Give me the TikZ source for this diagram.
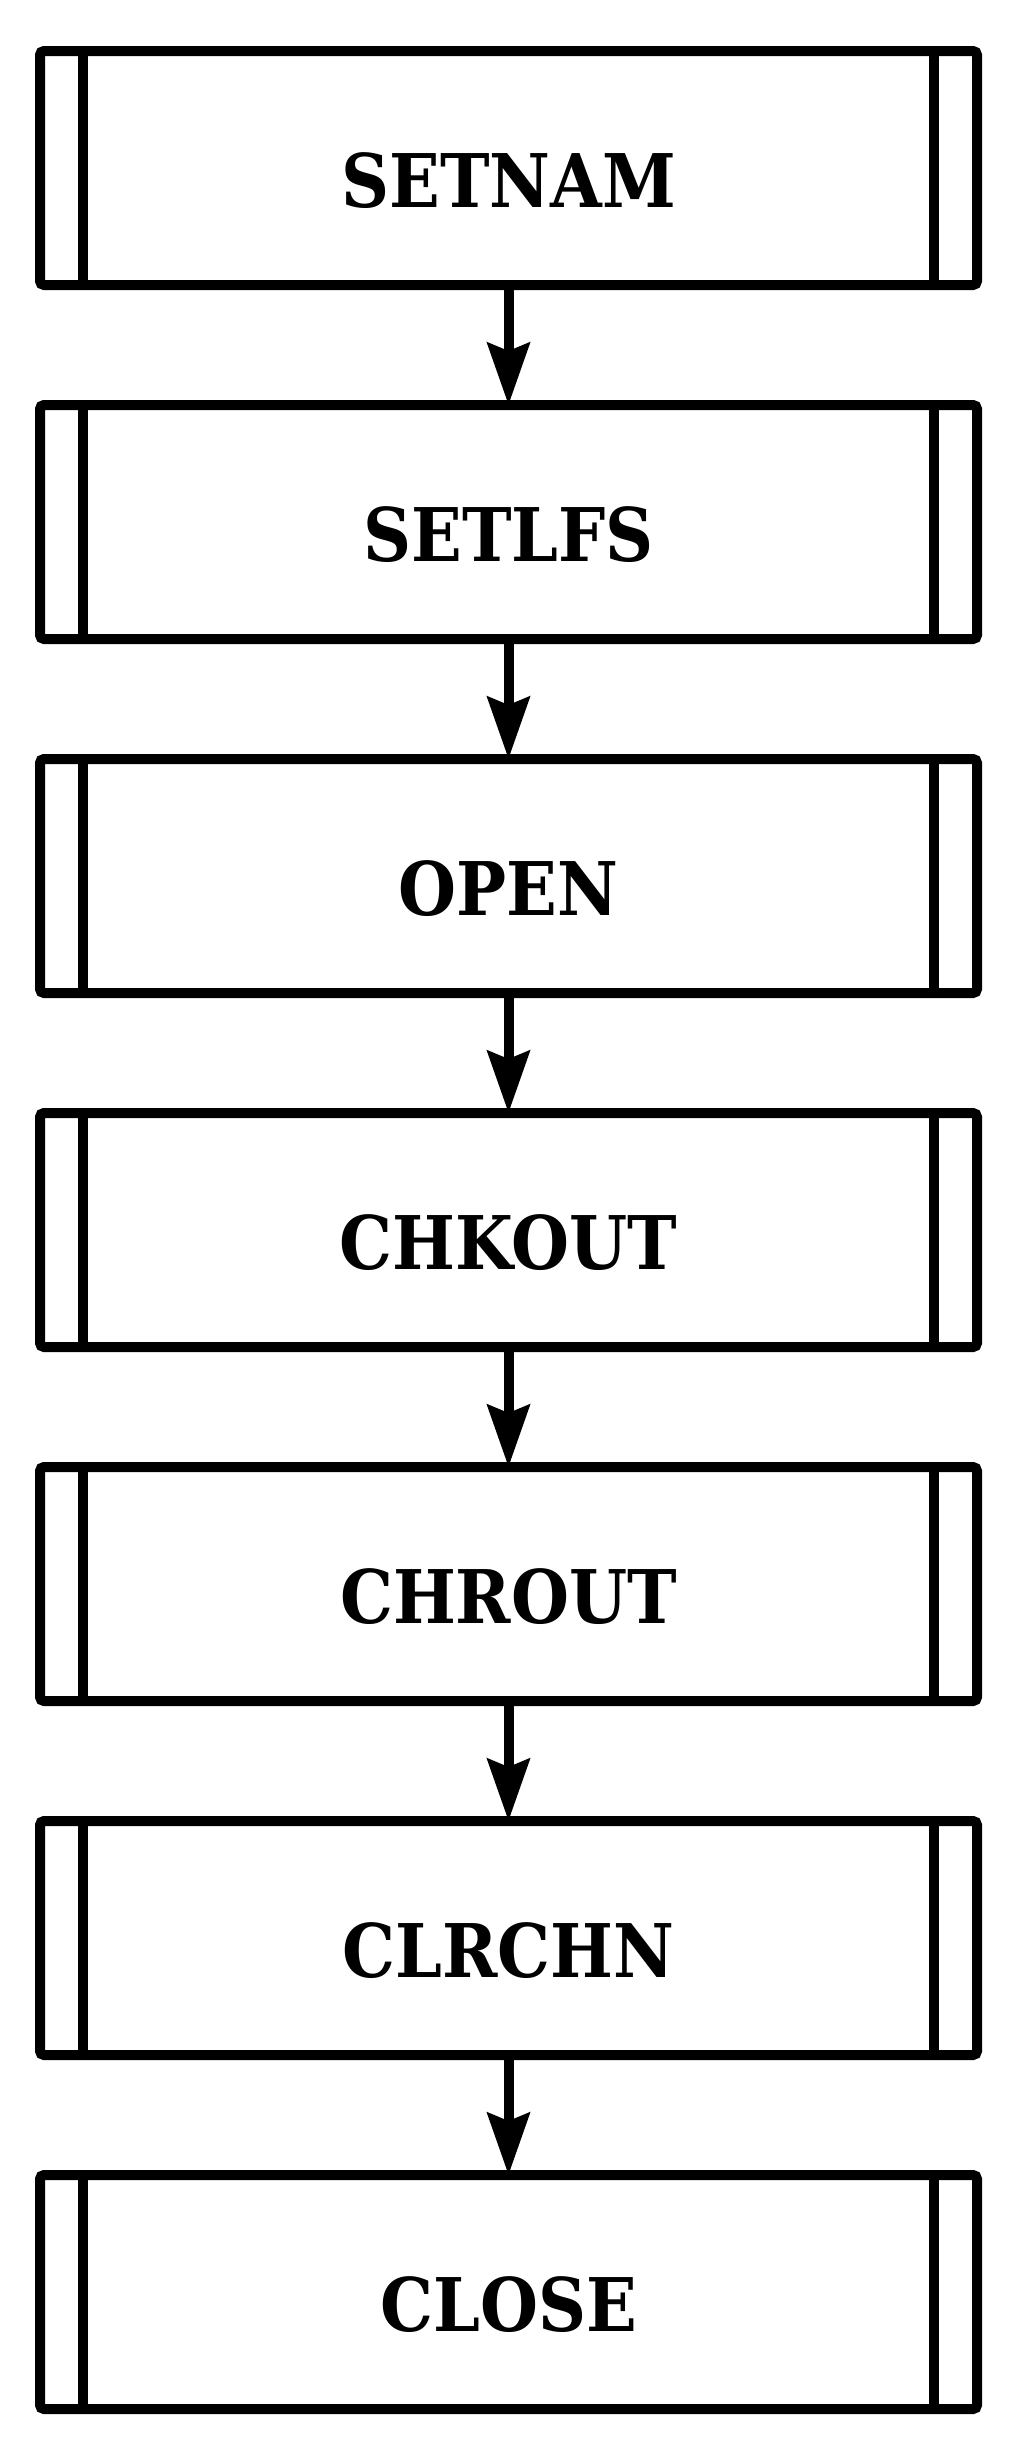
\documentclass[tikz,border=0pt]{standalone}
\usepackage{fontspec}
\setmainfont{DejaVu Serif Condensed}
\usetikzlibrary{arrows.meta}
\usetikzlibrary{positioning}

\tikzset{
    routine/.style={draw, line width=10pt, rounded corners=4pt, outer sep=0pt,
        minimum width=937pt, minimum height=234pt,
        text height=79pt, text depth=0pt,
        font=\fontsize{74}{80}\selectfont\bfseries,
        path picture={
            \draw[line width=10pt]
                ([xshift=43pt]path picture bounding box.north west) --
                ([xshift=43pt]path picture bounding box.south west)
                ([xshift=-43pt]path picture bounding box.north east) --
                ([xshift=-43pt]path picture bounding box.south east);
        }},
    flow/.style={line width=10pt, -{Stealth[length=62pt,width=42pt,inset=8pt]}}
}

\begin{document}
\begin{tikzpicture}[x=1pt, y=1pt, node distance=120pt]
    \useasboundingbox (0,0) rectangle (1014,-2460);
    \node [routine] (setnam) at (508.5,-168) {SETNAM};
    \node [routine] (setlfs) [below=of setnam] {SETLFS};
    \node [routine] (open) [below=of setlfs] {OPEN};
    \node [routine] (chkout) [below=of open] {CHKOUT};
    \node [routine] (chrout) [below=of chkout] {CHROUT};
    \node [routine] (clrchn) [below=of chrout] {CLRCHN};
    \node [routine] (close) [below=of clrchn] {CLOSE};
    \path[flow]
        (setnam) edge (setlfs)
        (setlfs) edge (open)
        (open) edge (chkout)
        (chkout) edge (chrout)
        (chrout) edge (clrchn)
        (clrchn) edge (close);
\end{tikzpicture}
\end{document}
